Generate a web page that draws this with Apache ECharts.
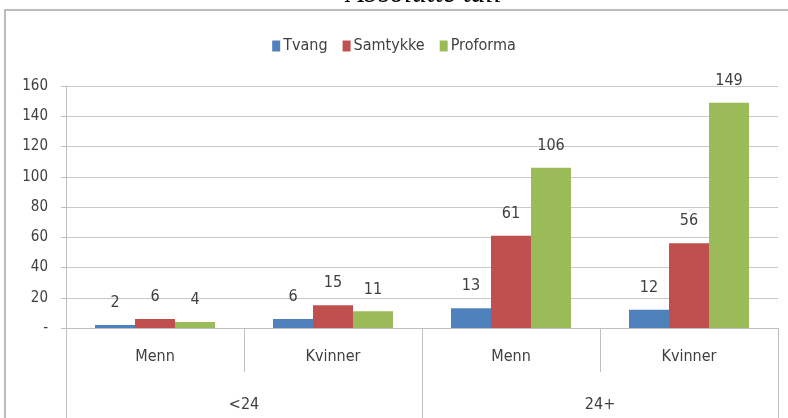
<!DOCTYPE html>
<html>
<head>
<meta charset="utf-8">
<script src="https://cdn.jsdelivr.net/npm/echarts@6/dist/echarts.min.js"></script>
<style>html,body{margin:0;padding:0;background:#fff;}#c{width:788px;height:418px;}</style>
</head>
<body>
<div id="c"></div>
<script>
var categories = ['Menn', 'Kvinner', 'Menn', 'Kvinner'];
var groups = ['<24', '24+'];
var tvang = [2, 6, 13, 12];
var samtykke = [6, 15, 61, 56];
var proforma = [4, 11, 106, 149];
var yTicks = {min: 0, max: 160, interval: 20};

var FONT = "'Liberation Sans Narrow', 'DejaVu Sans Condensed', 'Arial Narrow', sans-serif";
var TXT = '#404040';
var chart = echarts.init(document.getElementById('c'));
function mk(name, data, color) {
  return {
    name: name, type: 'bar', data: data, barWidth: 40, barGap: '0%',
    itemStyle: {color: color},
    label: {show: true, position: 'top', distance: 14, color: TXT, fontFamily: FONT, fontSize: 16},
    xAxisIndex: 0
  };
}
chart.setOption({
  animation: false,
  textStyle: {fontFamily: FONT},
  graphic: [
    {type: 'polyline', shape: {points: [[5, 418], [5, 10], [790, 10]]}, style: {stroke: '#a6a6a6', lineWidth: 1.5, fill: null}},
    {type: 'text', x: 424, y: 9, style: {text: 'Absolutte tall', font: 'italic 29px "Liberation Serif", serif', fill: '#000', textAlign: 'center', textVerticalAlign: 'bottom'}}
  ],
  legend: {
    data: ['Tvang', 'Samtykke', 'Proforma'],
    top: 33, left: 'center',
    itemWidth: 8, itemHeight: 11, itemGap: 15,
    icon: 'rect',
    textStyle: {color: TXT, fontFamily: FONT, fontSize: 16, padding: [0, 0, 0, -2]}
  },
  grid: {left: 66, right: 10, top: 86, bottom: 90, containLabel: false},
  xAxis: [
    {
      type: 'category', data: categories, position: 'bottom',
      axisLine: {lineStyle: {color: '#bfbfbf'}},
      axisTick: {show: true, interval: 0, length: 44, lineStyle: {color: '#bfbfbf'}},
      axisLabel: {color: TXT, fontFamily: FONT, fontSize: 16, margin: 21, interval: 0}
    },
    {
      type: 'category', data: groups, position: 'bottom',
      axisLine: {show: false},
      axisTick: {show: true, interval: 0, length: 92, lineStyle: {color: '#bfbfbf'}},
      axisLabel: {color: TXT, fontFamily: FONT, fontSize: 16, margin: 69, interval: 0}
    }
  ],
  yAxis: {
    type: 'value', min: yTicks.min, max: yTicks.max, interval: yTicks.interval,
    axisLine: {show: true, lineStyle: {color: '#bfbfbf'}},
    axisTick: {show: true, length: 5, lineStyle: {color: '#bfbfbf'}},
    splitLine: {lineStyle: {color: '#c8c8c8'}},
    axisLabel: {color: TXT, fontFamily: FONT, fontSize: 15, margin: 18,
      formatter: function (v) { return v === 0 ? '-' : String(v); }}
  },
  series: [
    mk('Tvang', tvang, '#4F81BD'),
    mk('Samtykke', samtykke, '#C0504D'),
    mk('Proforma', proforma, '#9BBB59')
  ]
});
</script>
</body>
</html>
